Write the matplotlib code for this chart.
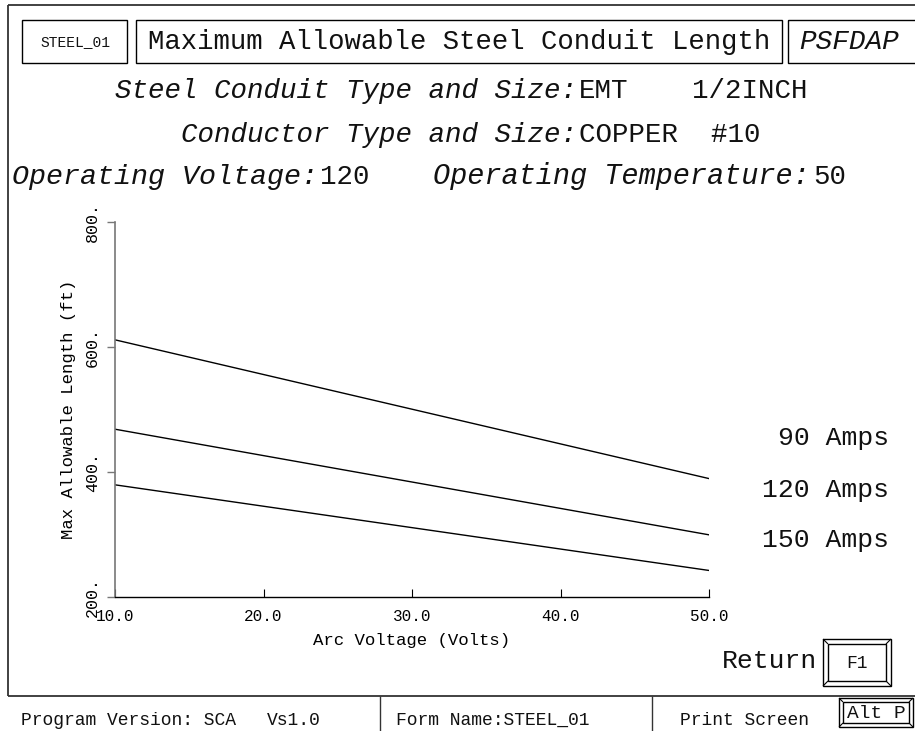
import matplotlib
matplotlib.use("Agg")
import matplotlib.pyplot as plt
from matplotlib.patches import Rectangle
from matplotlib.ticker import FixedLocator, FuncFormatter

plt.rcParams['font.family'] = ['Liberation Mono', 'DejaVu Sans Mono', 'DejaVu Sans']

# ---- data ----
arc_voltage = [10, 50]
len_90 = [611, 389]
len_120 = [468, 299]
len_150 = [379, 242]
series = [len_90, len_120, len_150]
amps_labels = ["90 Amps", "120 Amps", "150 Amps"]
x_ticks = [10, 20, 30, 40, 50]
y_ticks = [200, 400, 600, 800]

W, H = 915, 731
fig = plt.figure(figsize=(W / 100, H / 100), dpi=100)

# overlay in pixel coordinates
ov = fig.add_axes([0, 0, 1, 1])
ov.set_xlim(0, W)
ov.set_ylim(H, 0)
ov.axis('off')

TXT = '#111111'

def line(x0, y0, x1, y1, lw=1.0, color='black'):
    ov.plot([x0, x1], [y0, y1], color=color, lw=lw, solid_capstyle='butt')

def rect(x0, y0, x1, y1, lw=1.0):
    ov.add_patch(Rectangle((x0, y0), x1 - x0, y1 - y0, fill=False, lw=lw, ec='black'))

def bevel_box(ox0, oy0, ox1, oy1, inset):
    rect(ox0, oy0, ox1, oy1)
    ix0, iy0, ix1, iy1 = ox0 + inset, oy0 + inset, ox1 - inset, oy1 - inset
    rect(ix0, iy0, ix1, iy1)
    line(ox0, oy0, ix0, iy0, lw=0.8)
    line(ox1, oy0, ix1, iy0, lw=0.8)
    line(ox0, oy1, ix0, iy1, lw=0.8)
    line(ox1, oy1, ix1, iy1, lw=0.8)

# outer frame
line(8, 5, W, 5, lw=1.3, color='#333333')
line(8, 5, 8, 696, lw=1.3, color='#333333')
line(8, 696, W, 696, lw=1.3, color='#333333')
line(380, 696, 380, H, lw=1.0, color='#333333')
line(652, 696, 652, H, lw=1.0, color='#333333')

# header boxes
rect(22, 20, 127, 63)
rect(136, 20, 782, 63)
rect(788, 20, 925, 63)
ov.text(75, 42, "STEEL_01", fontsize=10.5, ha='center', va='center', color=TXT)
ov.text(459, 49, "Maximum Allowable Steel Conduit Length", fontsize=19.6,
        ha='center', va='baseline', color=TXT)
ov.text(799, 49, "PSFDAP", fontsize=20, style='italic', ha='left', va='baseline', color=TXT)

# info lines
ov.text(577, 98, "Steel Conduit Type and Size:", fontsize=19.8, style='italic',
        ha='right', va='baseline', color=TXT)
ov.text(579, 98, "EMT", fontsize=19.8, ha='left', va='baseline', color=TXT)
ov.text(692, 98, "1/2INCH", fontsize=19.8, ha='left', va='baseline', color=TXT)
ov.text(577, 142, "Conductor Type and Size:", fontsize=19.8, style='italic',
        ha='right', va='baseline', color=TXT)
ov.text(579, 142, "COPPER  #10", fontsize=19.8, ha='left', va='baseline', color=TXT)
ov.text(12, 184, "Operating Voltage:", fontsize=20.4, style='italic',
        ha='left', va='baseline', color=TXT)
ov.text(320, 184, "120", fontsize=19.8, ha='left', va='baseline', color=TXT)
ov.text(433, 184, "Operating Temperature:", fontsize=20.6, style='italic',
        ha='left', va='baseline', color=TXT)
ov.text(813, 184, "50", fontsize=19.8, ha='left', va='baseline', color=TXT)

# series labels
label_baselines = [445, 497, 547]
for lab, yb in zip(amps_labels, label_baselines):
    ov.text(889, yb, lab, fontsize=19, ha='right', va='baseline', color=TXT)

# Return / F1
ov.text(817, 668, "Return", fontsize=19, ha='right', va='baseline', color=TXT)
bevel_box(823, 639, 891, 686, 5)
ov.text(857, 663, "F1", fontsize=13, ha='center', va='center', color=TXT)

# bottom bar
ov.text(21, 725, "Program Version: SCA", fontsize=13, ha='left', va='baseline', color=TXT)
ov.text(267, 725, "Vs1.0", fontsize=13, ha='left', va='baseline', color=TXT)
ov.text(396, 725, "Form Name:STEEL_01", fontsize=13, ha='left', va='baseline', color=TXT)
ov.text(680, 725, "Print Screen", fontsize=13, ha='left', va='baseline', color=TXT)
bevel_box(839, 698, 913, 727, 4)
ov.text(876, 713, "Alt P", fontsize=14, ha='center', va='center', color=TXT)

# chart axes
left, right = 115 / W, 709 / W
bottom, top = 1 - 596.7 / H, 1 - 221.7 / H
ax = fig.add_axes([left, bottom, right - left, top - bottom])
ax.patch.set_alpha(0)
for xs_y in series:
    ax.plot(arc_voltage, xs_y, color='black', lw=1.0)
ax.set_xlim(10, 50)
ax.set_ylim(200, 800)
ax.spines['top'].set_visible(False)
ax.spines['right'].set_visible(False)
ax.spines['left'].set_color('#777777')
ax.spines['left'].set_linewidth(1.2)
ax.spines['bottom'].set_color('black')
ax.spines['bottom'].set_linewidth(1.0)

ax.xaxis.set_major_locator(FixedLocator(x_ticks))
ax.xaxis.set_major_formatter(FuncFormatter(lambda v, p: f"{v:.1f}"))
ax.yaxis.set_major_locator(FixedLocator(y_ticks))
ax.yaxis.set_major_formatter(FuncFormatter(lambda v, p: f"{v:.0f}."))
ax.tick_params(axis='x', direction='in', length=6, width=0.8, colors='black',
               labelsize=11.5, pad=9)
ax.tick_params(axis='y', direction='out', length=6, width=1.0, color='#777777',
               labelcolor='black', labelsize=12, pad=5, labelrotation=90)
for lab in ax.get_yticklabels():
    lab.set_va('center')
ax.set_xlabel("Arc Voltage (Volts)", fontsize=12.5, labelpad=6)
ax.set_ylabel("Max Allowable Length (ft)", fontsize=12.4, labelpad=6)

fig.savefig("out.png", dpi=100)
